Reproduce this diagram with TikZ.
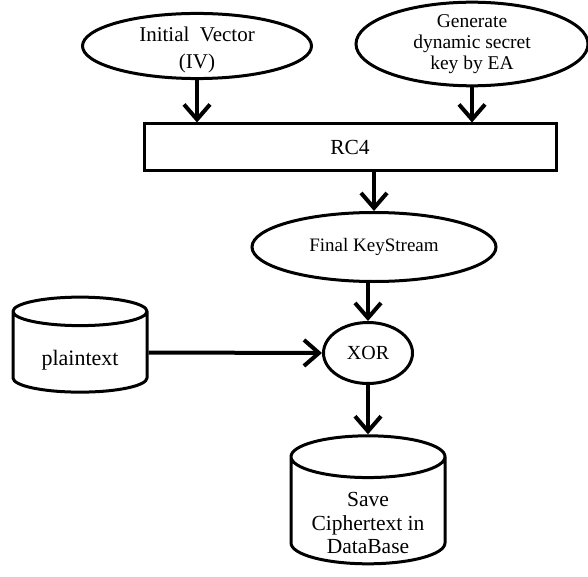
\documentclass[tikz,border=0pt]{standalone}
\usepackage{fontspec}
\setmainfont{Liberation Serif}
\usetikzlibrary{shapes.geometric, arrows.meta, calc}

% text set lower than the middle of its node
\newcommand{\lowtext}[2]{\raisebox{-#1}[\height][\depth]{#2}}

\begin{document}
\begin{tikzpicture}[x=1pt,y=1pt,
	every node/.style={font=\fontsize{21}{27}\selectfont, align=center, inner sep=0pt},
	oval/.style={ellipse, draw, line width=3pt},
	box/.style={rectangle, draw, line width=3pt},
	store/.style={cylinder, shape border rotate=90, draw, line width=3pt, aspect=0.37},
	flow/.style={-{Straight Barb[length=15pt,width=26pt,line width=4pt]}, line width=4pt}]

	\useasboundingbox (0,0) rectangle (588,-577);

	\node [oval, minimum width=229, minimum height=59] (iv) at (197,-46)
		{\lowtext{4pt}{Initial\ \ Vector}\\\lowtext{4pt}{(IV)}};
	\node [oval, minimum width=232, minimum height=79, font=\fontsize{19.5}{21}\selectfont] (ea) at (472,-44)
		{Generate\\dynamic secret\\key by EA};
	\node [box, minimum width=412, minimum height=47, font=\fontsize{21.5}{23}\selectfont] (rc4) at (350,-147.5) {RC4};
	\node [oval, minimum width=244, minimum height=69, font=\fontsize{19}{23}\selectfont] (ks) at (374,-247) {Final KeyStream};
	\node [oval, minimum width=89, minimum height=61, font=\fontsize{20}{23}\selectfont] (xor) at (368,-353) {XOR};
	\node [store, minimum width=134, minimum height=95, font=\fontsize{22}{27}\selectfont] (plain) at (80,-352.5)
		{\lowtext{7.5pt}{plaintext}};
	\node [store, minimum width=154, minimum height=128, font=\fontsize{21.5}{23.5}\selectfont] (db) at (368,-511)
		{\lowtext{12pt}{Save}\\\lowtext{12pt}{Ciphertext in}\\\lowtext{12pt}{DataBase}};

	\draw [flow] (iv.south) -- (iv.south |- rc4.north);
	\draw [flow] (ea.south) -- (ea.south |- rc4.north);
	\draw [flow] (rc4.south -| ks.north) -- (ks.north);
	\draw [flow] (ks.south -| xor.north) -- (xor.north);
	\draw [flow] (plain.east) -- (xor.west);
	\draw [flow] (xor.south) -- (db.north);

\end{tikzpicture}
\end{document}
